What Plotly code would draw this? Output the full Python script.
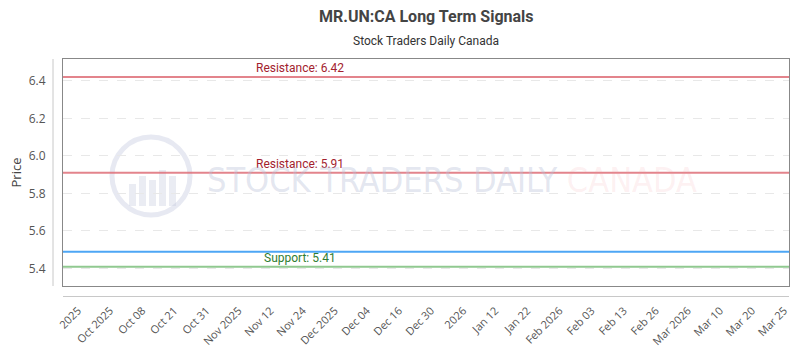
import plotly.graph_objects as go

tick_labels = ["2025", "Oct 2025", "Oct 08", "Oct 21", "Oct 31", "Nov 2025", "Nov 12",
               "Nov 24", "Dec 2025", "Dec 04", "Dec 16", "Dec 30", "2026", "Jan 12",
               "Jan 22", "Feb 2026", "Feb 03", "Feb 13", "Feb 26", "Mar 2026", "Mar 10",
               "Mar 20", "Mar 25"]
x_pos = list(range(len(tick_labels)))
price = [5.49, 5.49, 5.49, 5.49, 5.49, 5.49, 5.49, 5.49, 5.49, 5.49, 5.49, 5.49,
         5.49, 5.49, 5.49, 5.49, 5.49, 5.49, 5.49, 5.49, 5.49, 5.49, 5.49]
resistance_levels = [6.42, 5.91]
support_levels = [5.41]

PT, PB, PL, PR = 59, 286, 63, 789
PW, PH = PR - PL, PB - PT

fig = go.Figure()

x_range = [-0.47, 22.15]

fig.add_trace(go.Scatter(x=[x_range[0]] + x_pos + [x_range[1]],
                         y=[price[0]] + price + [price[-1]],
                         mode="lines", line=dict(color="#4da6f5", width=2),
                         hoverinfo="skip", showlegend=False))

for r in resistance_levels:
    fig.add_trace(go.Scatter(x=x_range, y=[r, r], mode="lines",
                             line=dict(color="rgba(222,110,120,0.85)", width=2),
                             showlegend=False, hoverinfo="skip"))
    fig.add_annotation(x=(300 - PL) / PW, xref="paper", y=r, yref="y",
                       text=f"Resistance: {r:.2f}", showarrow=False,
                       yanchor="bottom", xanchor="center",
                       font=dict(family="Roboto", size=12, color="#a3222e"))
for s in support_levels:
    fig.add_trace(go.Scatter(x=x_range, y=[s, s], mode="lines",
                             line=dict(color="#90c990", width=2),
                             showlegend=False, hoverinfo="skip"))
    fig.add_annotation(x=(300 - PL) / PW, xref="paper", y=s, yref="y",
                       text=f"Support: {s:.2f}", showarrow=False,
                       yanchor="bottom", xanchor="center",
                       font=dict(family="Roboto", size=12, color="#2f7d32"))

# title and subtitle
fig.add_annotation(x=0.5, xref="paper", y=(PB - 16) / PH, yref="paper",
                   text="<b>MR.UN:CA Long Term Signals</b>", showarrow=False,
                   xanchor="center", yanchor="middle",
                   font=dict(family="Roboto", size=16, color="#444"))
fig.add_annotation(x=0.5, xref="paper", y=(PB - 41) / PH, yref="paper",
                   text="Stock Traders Daily Canada", showarrow=False,
                   xanchor="center", yanchor="middle",
                   font=dict(family="Roboto", size=12, color="#333"))

# watermark
fig.add_annotation(x=(205 - PL) / PW, xref="paper", y=(PB - 180) / PH, yref="paper",
                   xanchor="left", yanchor="middle", showarrow=False,
                   text="STOCK TRADERS DAILY <span style='color:rgba(240,150,155,0.35)'>CANADA</span>",
                   font=dict(family="DejaVu Sans Condensed", size=34,
                             color="rgba(185,192,215,0.4)"))
fig.add_shape(type="circle", xref="paper", yref="paper", xsizemode="pixel",
              ysizemode="pixel", xanchor=(151 - PL) / PW, yanchor=(PB - 176) / PH,
              x0=-39, x1=39, y0=-39, y1=39,
              line=dict(color="rgba(195,200,222,0.4)", width=5), layer="below")
for dx, h in [(-22, 22), (-12, 30), (-2, 26), (8, 36), (18, 30)]:
    fig.add_shape(type="rect", xref="paper", yref="paper", xsizemode="pixel",
                  ysizemode="pixel", xanchor=(151 - PL) / PW, yanchor=(PB - 176) / PH,
                  x0=dx, x1=dx + 7, y0=-30, y1=-30 + h,
                  line=dict(width=0), fillcolor="rgba(195,200,222,0.35)", layer="below")

# offset axis lines
fig.add_shape(type="line", xref="paper", yref="paper", x0=-10 / PW, x1=-10 / PW,
              y0=0, y1=1, line=dict(color="#c8c8c8", width=1))
fig.add_shape(type="line", xref="paper", yref="paper", x0=0, x1=1,
              y0=-10.5 / PH, y1=-10.5 / PH, line=dict(color="#c8c8c8", width=1))

fig.update_layout(
    width=800, height=350,
    margin=dict(l=PL, r=800 - PR, t=PT, b=350 - PB),
    paper_bgcolor="white", plot_bgcolor="white",
    xaxis=dict(range=x_range, tickvals=x_pos, ticktext=tick_labels, tickangle=-45,
               automargin=False,
               showgrid=False, zeroline=False, showline=True, mirror=True,
               linecolor="#888", linewidth=1, ticks="outside", ticklen=13,
               tickcolor="rgba(0,0,0,0)",
               tickfont=dict(family="Open Sans", size=11, color="#555")),
    yaxis=dict(range=[5.307, 6.516], tickvals=[5.4, 5.6, 5.8, 6.0, 6.2, 6.4],
               ticktext=["5.4", "5.6", "5.8", "6.0", "6.2", "6.4"], automargin=False,
               showgrid=True, gridcolor="#e8e8e8", griddash="dash", gridwidth=1,
               zeroline=False, showline=True, mirror=True, linecolor="#888",
               linewidth=1, ticks="outside", ticklen=14, tickcolor="rgba(0,0,0,0)",
               tickfont=dict(family="Open Sans", size=12, color="#555"),
               title=dict(text="Price", font=dict(family="Open Sans", size=13, color="#444"),
                          standoff=4)),
)

fig.write_html("out.html")
